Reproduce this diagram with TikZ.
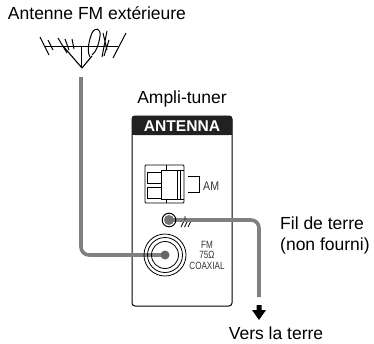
\documentclass[tikz,border=0pt]{standalone}
\usepackage{fontspec}
\setmainfont{Liberation Sans}
\tikzset{
  lab/.style={inner sep=0pt,font=\fontsize{17.5}{21}\selectfont,text=black},
  small/.style={inner sep=0pt,font=\fontsize{10.5}{10.5}\selectfont,text=black!80,align=center,xscale=0.77},
  cable/.style={draw=black!50,line width=3.6pt,rounded corners=8pt},
  thin/.style={draw=black,line width=0.8pt},
}
\definecolor{dk}{gray}{0.13}
\begin{document}
\begin{tikzpicture}[x=1pt,y=-1pt]
\useasboundingbox (0,0) rectangle (374,343);
\node[lab,anchor=center] (t1) at (97,13) {Antenne FM extérieure};
\node[lab,anchor=center] (t2) at (182,99) {Ampli-tuner};
\node[lab,align=left,anchor=west] (t3) at (280,235) {Fil de terre\\(non fourni)};
\node[lab,anchor=center] (t4) at (276,333) {Vers la terre};
\coordinate (mast) at (81,77);
\coordinate (fmc) at (165,255);
\coordinate (gnd) at (169,220);
\coordinate (earth) at (259,297);
% panel
\draw[thin,line width=1pt,rounded corners=3pt] (132,116) rectangle (232,306);
\fill[dk,rounded corners=3pt] (132,135) -- (132,116) -- (232,116) -- (232,135) -- cycle;
\fill[dk] (132,128) rectangle (232,135);
\node[inner sep=0pt,font=\fontsize{15.6}{15}\selectfont\bfseries,text=white] (ant) at (182,126) {ANTENNA};
% AM connector
\draw[thin,rounded corners=1pt] (145,165) rectangle (184,203);
\draw[thin] (147,172) rectangle (161,183);
\draw[thin] (147,187) rectangle (161,198);
\draw[thin] (161,170) -- (184,170) (161,199) -- (184,199) (161,170) -- (161,199);
\draw[thin] (166,165) -- (166,170) (166,199) -- (166,203);
\draw[thin,line width=0.6pt] (177,170) -- (177,199) (180,170) -- (180,199);
\draw[thin] (188,176) -- (199,176) -- (199,192) -- (188,192);
\node[inner sep=0pt,font=\fontsize{12.5}{13}\selectfont,text=black!80,anchor=west,xscale=0.85] (am) at (203,186) {AM};
% ground
\draw[cable] (gnd) -- (259,220) -- (earth);
\fill[black!55] (gnd) circle (5);
\draw[thin,line width=1pt] (gnd) circle (6.8);
\draw[thin,line width=0.7pt] (185,216) -- (185,220) (181,227) -- (183.5,222) (184.5,227) -- (187,222) (188,227) -- (190.5,222);
% coax
\draw[cable] (mast) -- (81,255) -- (fmc);
\foreach \r in {21,17.5,13.5} \draw[thin] (fmc) circle (\r);
\fill[black!60] (fmc) circle (4.5);
\node[small] (fm) at (207,255) {FM\\75Ω\\COAXIAL};
% arrow
\fill[black] (259,320) -- (252,310) -- (256.5,310) -- (256.5,305) -- (261.5,305) -- (261.5,310) -- (266,310) -- cycle;
% antenna
\draw[thin,line width=1pt] (81,46) -- (81,68) (45,46) -- (118,46);
\draw[thin,line width=1.1pt] (82,68) -- (63,46) (82,68) -- (92,56);
\draw[thin,line width=1pt] (40,37) -- (49,55) (48,40) -- (53,50) (58,38) -- (67,53) (65,39) -- (69,50) (72,39) -- (74,49) (107,31) -- (102,57) (103,33) -- (107,50) (109,40) -- (104,56) (126,33) -- (113,58);
\draw[thin,line width=1pt] (90,57) .. controls (86,50) and (90,38) .. (92,33) .. controls (95,27) and (101,28) .. (100,36) .. controls (99,44) and (96,52) .. (92,55);
\end{tikzpicture}
\end{document}
